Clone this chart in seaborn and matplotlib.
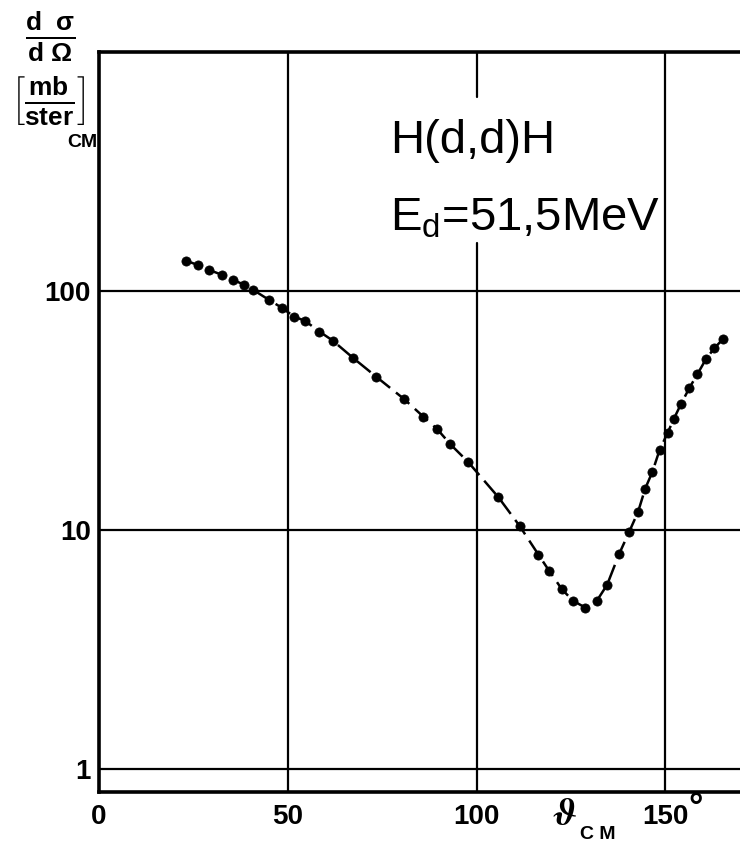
import numpy as np
import pandas as pd
import matplotlib
matplotlib.use("Agg")
import matplotlib.pyplot as plt
import seaborn as sns

# ---- data ----
theta = [23.0, 26.1, 29.2, 32.7, 35.6, 38.5, 40.9, 45.1, 48.4, 51.7, 54.6, 58.4,
         61.9, 67.4, 73.4, 80.8, 85.9, 89.6, 93.1, 97.7, 105.8, 111.4, 116.4,
         119.3, 122.6, 125.5, 128.8, 131.8, 134.6, 137.8, 140.4, 142.8, 144.7,
         146.6, 148.5, 150.6, 152.2, 154.2, 156.4, 158.5, 160.8, 163.0, 165.4]
xsec = [134, 128.5, 122.4, 116.6, 111.2, 106, 100.9, 91.6, 85.1, 78.1, 74.9, 67.6,
        62.0, 52.3, 43.8, 35.3, 29.8, 26.4, 22.8, 19.3, 13.7, 10.4, 7.88,
        6.72, 5.65, 5.06, 4.73, 5.03, 5.89, 7.94, 9.78, 11.9, 14.9,
        17.5, 21.6, 25.4, 29.0, 33.7, 39.3, 44.8, 51.9, 57.6, 63.2]
x_ticks = [0, 50, 100, 150]
x_tick_labels = ["0", "50", "100", "150"]
y_ticks = [1, 10, 100]
y_tick_labels = ["1", "10", "100"]

sns.set_style("white")
plt.rcParams['font.family'] = ['Liberation Sans', 'DejaVu Sans']
plt.rcParams['text.color'] = 'black'
plt.rcParams['xtick.color'] = 'black'
plt.rcParams['ytick.color'] = 'black'
plt.rcParams['mathtext.fontset'] = 'custom'
plt.rcParams['mathtext.rm'] = 'Liberation Sans'
plt.rcParams['mathtext.it'] = 'Liberation Sans'
plt.rcParams['mathtext.bf'] = 'Liberation Sans:bold'

W, H = 740, 851
fig = plt.figure(figsize=(W / 100, H / 100), dpi=100)
ax_left, ax_right, ax_top, ax_bot = 99, 740, 52, 792
ax = fig.add_axes([ax_left / W, 1 - ax_bot / H, (ax_right - ax_left) / W, (ax_bot - ax_top) / H])

df = pd.DataFrame({"theta": theta, "xsec": xsec})
sns.lineplot(data=df, x="theta", y="xsec", ax=ax, color="black", lw=1.8,
             linestyle=(0, (7, 3)), zorder=3)
sns.scatterplot(data=df, x="theta", y="xsec", ax=ax, color="black", s=44,
                edgecolor="black", linewidth=0.5, zorder=4)

ax.set_yscale("log")
ax.set_xlim(0, 169.8)
ax.set_ylim(0.80, 1000)
ax.set_xticks(x_ticks)
ax.set_xticklabels(x_tick_labels)
ax.set_yticks(y_ticks)
ax.set_yticklabels(y_tick_labels)
ax.yaxis.set_minor_locator(matplotlib.ticker.NullLocator())
ax.tick_params(axis="both", length=0, labelsize=20, labelcolor="black")
ax.tick_params(axis="x", pad=9)
ax.tick_params(axis="y", pad=6)
for lab in ax.get_xticklabels() + ax.get_yticklabels():
    lab.set_fontweight("bold")
ax.set_xlabel("")
ax.set_ylabel("")

# grid lines
for yv in y_ticks:
    ax.axhline(yv, color="black", lw=1.6, zorder=1)
for xv in x_ticks[1:]:
    if xv == 100:
        ax.axvline(xv, ymin=(ax_bot - 97) / (ax_bot - ax_top), ymax=1, color="black", lw=1.6, zorder=1)
        ax.axvline(xv, ymin=0, ymax=(ax_bot - 243) / (ax_bot - ax_top), color="black", lw=1.6, zorder=1)
    else:
        ax.axvline(xv, color="black", lw=1.6, zorder=1)

for s in ["left", "bottom", "top"]:
    ax.spines[s].set_linewidth(2.6)
    ax.spines[s].set_color("black")
ax.spines["right"].set_visible(False)

# degree sign on 150
fig.text(688 / W, 1 - 818 / H, "°", fontsize=26, fontweight="bold", ha="left", va="baseline")
# x label
fig.text(553 / W, 1 - 825 / H, "ϑ", fontsize=28, ha="left", va="baseline",
         family=["STIXGeneral", "DejaVu Sans"], fontweight="bold", fontstyle="italic")
fig.text(580 / W, 1 - 839 / H, "C M", fontsize=14, fontweight="bold", ha="left", va="baseline")

# y label
fig.text(50 / W, 1 - 37 / H, r"$\frac{\mathbf{d\ \ σ}}{\mathbf{d\ Ω}}$", fontsize=27,
         ha="center", va="center")
fig.text(48 / W, 1 - 101 / H, r"$\left[\frac{\mathbf{mb}}{\mathbf{ster}}\right]$", fontsize=27,
         ha="center", va="center")
fig.text(67 / W, 1 - 147 / H, "CM", fontsize=14, fontweight="bold", ha="left", va="baseline")

# annotation
fig.text(390 / W, 1 - 153 / H, "H(d,d)H", fontsize=34, ha="left", va="baseline")
fig.text(390 / W, 1 - 230 / H, r"E$_{\mathregular{d}}$=51,5MeV", fontsize=34, ha="left", va="baseline")

fig.savefig("out.png", dpi=100)
